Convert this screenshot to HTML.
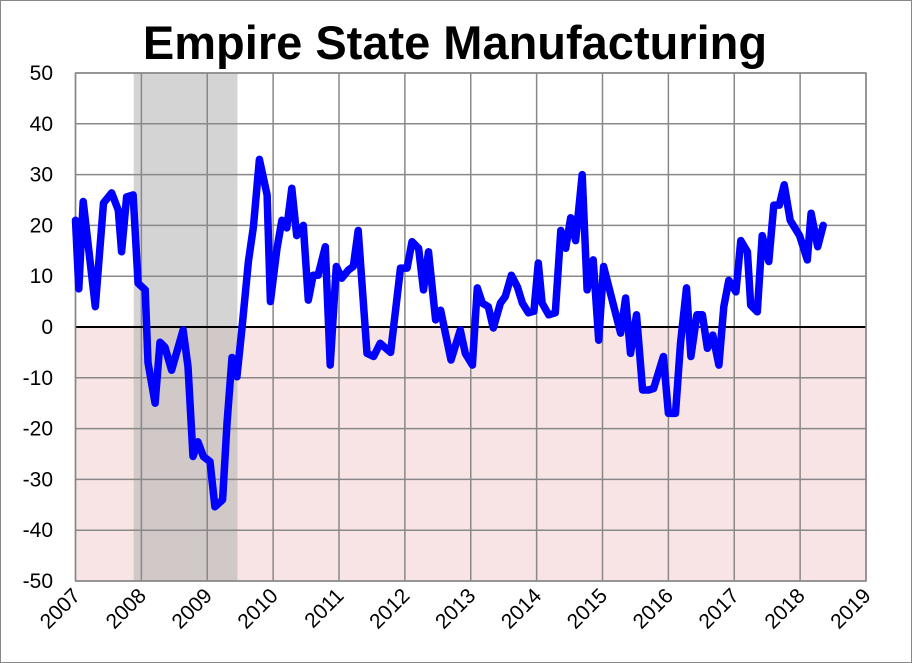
<!DOCTYPE html>
<html><head><meta charset="utf-8"><style>
html,body{margin:0;padding:0;background:#fff}
svg{display:block}
</style></head><body>
<svg id="chart" width="912" height="663" viewBox="0 0 912 663" xmlns="http://www.w3.org/2000/svg">
<rect x="0.5" y="0.5" width="911" height="662" fill="#fff" stroke="#888"/>
<text x="455" y="59" text-anchor="middle" font-family="Liberation Sans, sans-serif" font-weight="bold" font-size="47" fill="#000">Empire State Manufacturing</text>
<g id="plot"></g>
</svg>
<script>
const yearLabels=['2007','2008','2009','2010','2011','2012','2013','2014','2015','2016','2017','2018','2019'];
const yTicks=[50,40,30,20,10,0,-10,-20,-30,-40,-50];
const recession=[10.6,29.5];
const months=[0,0.6,1.4,3.6,5.1,6.6,7.8,8.4,9.3,10.5,11.4,12.7,13.2,14.5,15.4,16.3,17.5,19.6,20.5,21.4,22.3,23.3,24.5,25.4,26.8,27.6,28.5,29.4,30.3,31.5,32.4,33.5,34.9,35.5,36.7,37.6,38.5,39.4,40.3,41.5,42.4,43.3,44.2,45.5,46.4,47.5,48.5,49.7,50.6,51.5,53.1,54.3,55.5,57.4,59.2,60.4,61.3,62.5,63.4,64.3,65.6,66.5,68.4,70.1,71.0,72.3,73.2,74.1,75.2,76.1,77.4,78.3,79.4,80.5,81.4,82.5,83.5,84.3,85.0,86.2,87.4,88.4,89.3,90.2,91.1,92.3,93.2,94.3,95.3,96.2,99.3,100.2,101.1,102.2,103.3,104.4,105.3,107.1,108.0,109.3,110.2,111.3,112.1,113.2,114.2,115.1,116.1,117.2,118.1,119.0,120.3,121.2,122.4,123.0,124.2,125.1,126.3,127.2,128.2,129.1,130.2,131.9,133.3,134.0,135.2,136.2];
const values=[21,7.5,24.7,4,24.4,26.4,23,14.8,25.6,26,8.6,7.3,-7,-15,-3,-4,-8.5,-0.6,-7.8,-25.5,-22.6,-25.5,-26.5,-35.4,-34,-19,-6,-9.8,-0.6,12.9,19.7,33,26,5,15.5,21,19.5,27.3,18,20,5.3,10.2,10.2,15.8,-7.5,11.9,9.6,11.2,11.9,19,-5.2,-5.8,-3.2,-5,11.6,11.6,16.8,15.5,7.3,14.8,1.4,3.3,-6.5,-0.6,-5.2,-7.5,7.7,4.7,4,-0.2,4.7,6,10.2,7.9,4.7,2.8,3.1,12.6,4.7,2.4,2.8,19,15.5,21.5,17,30,7.3,13.2,-2.6,11.9,-1.2,5.7,-5.2,2.4,-12.4,-12.4,-12.1,-5.8,-17,-17,-3.2,7.7,-5.8,2.4,2.4,-4.2,-1.6,-7.5,4,9.2,6.9,17,14.8,4.3,3,18,12.9,24,24,28,21,18,13.2,22.4,15.8,20];

const NS='http://www.w3.org/2000/svg';
const X0=75.5,X1=866,Y0=73,Y1=581;
const xs=m=>X0+m*(X1-X0)/144;
const ys=v=>Y0+(50-v)*(Y1-Y0)/100;
const plot=document.getElementById('plot');
function mk(tag,attrs){const e=document.createElementNS(NS,tag);for(const k in attrs)e.setAttribute(k,attrs[k]);plot.appendChild(e);return e;}

let e=mk('rect',{x:X0,y:ys(0),width:X1-X0,height:Y1-ys(0),fill:'#f8e4e4'});


e=mk('rect',{x:xs(recession[0]),y:Y0,width:xs(recession[1])-xs(recession[0]),height:Y1-Y0,fill:'#b0b0b0','fill-opacity':0.55});



yTicks.forEach(v=>{
  const y=ys(v);
  if(v!==0){const l=mk('line',{x1:X0,x2:X1,y1:y,y2:y,stroke:'#888','stroke-width':1.5});
  
  }
  const t=mk('text',{x:53,y:y+7,'text-anchor':'end','font-family':'Liberation Sans, sans-serif','font-size':21,fill:'#000'});
  t.textContent=v;
  
  
});
yearLabels.forEach((lab,i)=>{
  const x=xs(i*12);
  const l=mk('line',{x1:x,x2:x,y1:Y0,y2:Y1,stroke:'#888','stroke-width':1.5});
  
  
  const t=mk('text',{x:x+6,y:597,'text-anchor':'end','font-family':'Liberation Sans, sans-serif','font-size':21,fill:'#000',transform:`rotate(-45 ${x+6} 597)`});
  t.textContent=lab;
  
  
});
e=mk('line',{x1:X0,x2:X1,y1:ys(0),y2:ys(0),stroke:'#000','stroke-width':2});


e=mk('rect',{x:X0,y:Y0,width:X1-X0,height:Y1-Y0,fill:'none',stroke:'#888','stroke-width':1.5});


const d=months.map((m,i)=>(i?'L':'M')+xs(m).toFixed(1)+','+ys(values[i]).toFixed(1)).join(' ');
e=mk('path',{d:d,fill:'none',stroke:'#0000ff','stroke-width':7.5,'stroke-linejoin':'round','stroke-linecap':'round'});


</script>
</body></html>
